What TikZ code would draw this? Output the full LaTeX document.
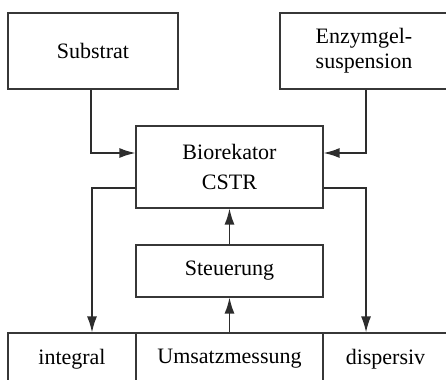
\documentclass[tikz,border=0pt]{standalone}
\usepackage{fontspec}
\setmainfont{Liberation Serif}
\usetikzlibrary{arrows.meta}

\tikzset{every picture/.style={line width=0.75pt}}
\tikzset{
  blockbox/.style={draw={rgb,255:red,55;green,55;blue,55}, line width=0.9pt, inner sep=0pt, align=center,
    font=\fontsize{16.5}{18}\selectfont},
  flowline/.style={draw={rgb,255:red,45;green,45;blue,45}, line width=1.1pt,
    -{Latex[length=12pt,width=7.5pt]}}
}

\begin{document}
\begin{tikzpicture}[x=0.75pt,y=0.75pt,yscale=-1,xscale=1]
\useasboundingbox (0,0) rectangle (446,379);

% Eingangsbloecke
\node [blockbox, minimum width=127.5pt, minimum height=57pt] (substrat) at (93,51) {Substrat};
\node [blockbox, minimum width=126pt, minimum height=57pt, font=\fontsize{16.5}{18.5}\selectfont] (enzym) at (364,51) {Enzymgel-\\suspension};
% Reaktor
\node [blockbox, minimum width=140.25pt, minimum height=61.5pt, font=\fontsize{16.5}{23}\selectfont] (reaktor) at (229.5,167) {Biorekator\\CSTR};
% Steuerung
\node [blockbox, minimum width=140.25pt, minimum height=39pt] (steuerung) at (229.5,271) {Steuerung};
% Messung
\node [blockbox, minimum width=96pt, minimum height=39pt] (integral) at (72,359) {integral};
\node [blockbox, minimum width=140.25pt, minimum height=39pt] (umsatz) at (229.5,359) {Umsatzmessung};
\node [blockbox, minimum width=93.75pt, minimum height=39pt] (dispersiv) at (385.5,359) {dispersiv};

% Verbindungen
\draw [flowline] ([xshift=-1.5pt]substrat.south) |- ([yshift=-10.5pt]reaktor.west);
\draw [flowline] ([xshift=1.5pt]enzym.south) |- ([yshift=-10.5pt]reaktor.east);
\draw [flowline] ([yshift=15.75pt]reaktor.west) -| ([xshift=15pt]integral.north);
\draw [flowline] ([yshift=15.75pt]reaktor.east) -| ([xshift=-14.6pt]dispersiv.north);
\draw [flowline] (steuerung.north) -- (reaktor.south);
\draw [flowline] (umsatz.north) -- (steuerung.south);

\end{tikzpicture}
\end{document}
